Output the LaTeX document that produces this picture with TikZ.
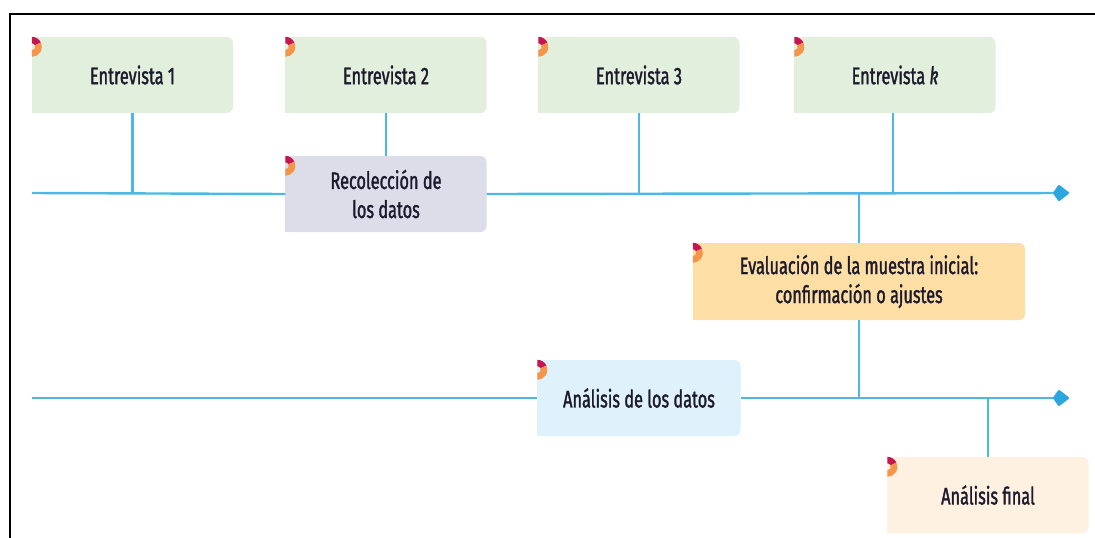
\documentclass[tikz,border=0pt]{standalone}
\usepackage{fontspec}
\usepackage{xcolor}
\usepackage{tikz}
\usetikzlibrary{positioning,calc,arrows.meta}
\newfontfamily\boxfont[FakeStretch=0.68,FakeBold=1.4]{Fira Sans}

\definecolor{lineblue}{RGB}{76,184,232}
\definecolor{tipblue}{RGB}{43,166,223}
\definecolor{greenbox}{RGB}{225,239,220}
\definecolor{greybox}{RGB}{220,221,233}
\definecolor{yellowbox}{RGB}{253,223,166}
\definecolor{bluebox}{RGB}{223,241,251}
\definecolor{creambox}{RGB}{254,241,226}
\definecolor{markred}{RGB}{199,22,79}
\definecolor{markorange}{RGB}{247,148,75}
\definecolor{boxtext}{RGB}{28,26,44}

\pgfdeclarelayer{bg}
\pgfsetlayers{bg,main}

\tikzset{
    panel/.style={minimum width=201pt, minimum height=76pt, inner sep=0pt, align=center,
        rounded corners=6pt, text=boxtext, font=\boxfont\fontsize{24}{29}\selectfont},
    timeline/.style={line width=2.4pt, lineblue},
    branch/.style={line width=2.2pt, lineblue},
    tip/.style={-{Kite[length=17pt,width=17pt,inset=6pt,line join=round,fill=tipblue,color=tipblue]}}
}

% half ring at the top left corner of a box
\newcommand{\tabmarker}[1]{%
    \fill[markred] ($(#1.north west)+(0,0)$) arc (90:25:10pt) -- ($(#1.north west)+(0,10)+(25:3.5pt)$) arc (25:90:3.5pt) -- cycle;
    \fill[markorange] ($(#1.north west)+(0,10)+(25:10pt)$) arc (25:-90:10pt) -- ($(#1.north west)+(0,13.5)$) arc (-90:25:3.5pt) -- cycle;%
}

\begin{document}
\begin{tikzpicture}[x=1pt, y=-1pt]
    \useasboundingbox (0,0) rectangle (1095,538);

    % frame
    \draw[line width=2pt] (10,538) -- (10,14) -- (1095,14);

    % interviews
    \node[panel, fill=greenbox] (e1) at (132.5,75) {Entrevista 1};
    \node[panel, fill=greenbox] (e2) at (386,75) {Entrevista 2};
    \node[panel, fill=greenbox] (e3) at (639,75) {Entrevista 3};
    \node[panel, fill=greenbox] (ek) at (895,75) {Entrevista \textit{k}};

    % steps
    \node[panel, fill=greybox] (rec) at (386,194) {Recolección de\\los datos};
    \node[panel, fill=yellowbox, minimum width=332pt, minimum height=77pt] (eval) at (859,281.5)
        {Evaluación de la muestra inicial:\\confirmación o ajustes};
    \node[panel, fill=bluebox, minimum width=203pt] (adat) at (639,398) {Análisis de los datos};
    \node[panel, fill=creambox] (afin) at (988,495) {Análisis final};

    % square left corners
    \begin{pgfonlayer}{bg}
        \foreach \n/\c in {e1/greenbox, e2/greenbox, e3/greenbox, ek/greenbox, rec/greybox,
            eval/yellowbox, adat/bluebox, afin/creambox}
            \fill[\c] (\n.south west) rectangle (\n.north);
    \end{pgfonlayer}

    \foreach \n in {e1,e2,e3,ek,rec,eval,adat,afin} {\tabmarker{\n}}

    % time lines
    \coordinate (l1s) at (32,193);
    \coordinate (l1e) at (1069,193);
    \coordinate (l2s) at (32,398);
    \coordinate (l2e) at (1069,398);

    \draw[timeline] (l1s) -- (rec.west);
    \draw[timeline, tip] (rec.east) -- (l1e);
    \draw[timeline] (l2s) -- (adat.west);
    \draw[timeline, tip] (adat.east) -- (l2e);

    % branches
    \draw[branch] (e1.south) -- (e1.south |- l1s);
    \draw[branch] (e2.south) -- (rec.north);
    \draw[branch] (e3.south) -- (e3.south |- l1s);
    \draw[branch] ([xshift=-2pt]ek.south) -- ([xshift=-2pt]ek.south |- l1s);
    \draw[branch] (eval.north |- l1s) -- (eval.north);
    \draw[branch] (eval.south) -- (eval.south |- l2s);
    \draw[branch] (afin.north |- l2s) -- (afin.north);
\end{tikzpicture}
\end{document}
